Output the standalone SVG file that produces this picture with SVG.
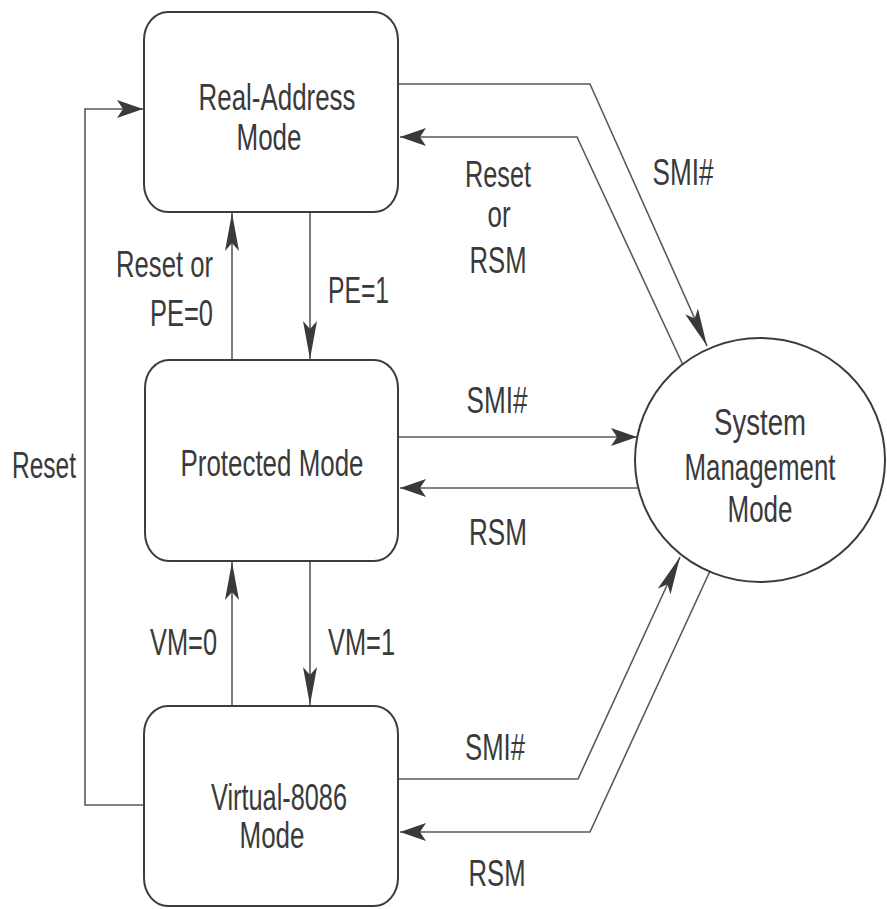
<svg xmlns="http://www.w3.org/2000/svg" width="887" height="909" viewBox="0 0 887 909">
<style>
.box{fill:#fff;stroke:#3c3c3c;stroke-width:2}
.ln{fill:none;stroke:#5a5a5a;stroke-width:1.6}
.t{font-family:"Liberation Sans",Arial,sans-serif;font-size:36px;fill:#3a3a3a;text-anchor:middle}
.e{text-anchor:end}
.s{text-anchor:start}
</style>
<defs>
<marker id="ah" markerUnits="userSpaceOnUse" viewBox="0 0 26 18" refX="26" refY="9" markerWidth="26" markerHeight="18" orient="auto">
<path d="M0,0 L26,9 L0,18 L6,9 Z" fill="#3a3a3a"/>
</marker>
<marker id="av" markerUnits="userSpaceOnUse" viewBox="0 0 38 14" refX="38" refY="7" markerWidth="38" markerHeight="14" orient="auto">
<path d="M0,0 L38,7 L0,14 L8,7 Z" fill="#3a3a3a"/>
</marker>
</defs>
<rect width="887" height="909" fill="#fff"/>
<g id="connectors">
<path class="ln" d="M144,805 L85,805 L85,109 L143,109" marker-end="url(#ah)"/>
<path class="ln" d="M232,360 L232,213" marker-end="url(#av)"/>
<path class="ln" d="M310,212 L310,359" marker-end="url(#av)"/>
<path class="ln" d="M232,706 L232,562" marker-end="url(#av)"/>
<path class="ln" d="M310,561 L310,705" marker-end="url(#av)"/>
<path class="ln" d="M398,84 L590,84 L707,346" marker-end="url(#av)"/>
<path class="ln" d="M683,365 L577,137 L400,137" marker-end="url(#ah)"/>
<path class="ln" d="M398,437 L637,437" marker-end="url(#ah)"/>
<path class="ln" d="M638,488 L400,488" marker-end="url(#ah)"/>
<path class="ln" d="M398,779 L578,779 L680,557" marker-end="url(#av)"/>
<path class="ln" d="M710,571 L590,832 L400,832" marker-end="url(#ah)"/>
<g id="labels">
<text class="t" x="44" y="478" textLength="64" lengthAdjust="spacingAndGlyphs">Reset</text>
<text class="t e" x="213" y="277" textLength="97" lengthAdjust="spacingAndGlyphs">Reset or</text>
<text class="t e" x="213" y="326" textLength="63" lengthAdjust="spacingAndGlyphs">PE=0</text>
<text class="t s" x="328" y="303" textLength="61" lengthAdjust="spacingAndGlyphs">PE=1</text>
<text class="t e" x="217" y="655" textLength="67" lengthAdjust="spacingAndGlyphs">VM=0</text>
<text class="t s" x="328" y="655" textLength="67" lengthAdjust="spacingAndGlyphs">VM=1</text>
<text class="t" x="498" y="187" textLength="66" lengthAdjust="spacingAndGlyphs">Reset</text>
<text class="t" x="499" y="227" textLength="23" lengthAdjust="spacingAndGlyphs">or</text>
<text class="t" x="498" y="273" textLength="57" lengthAdjust="spacingAndGlyphs">RSM</text>
<text class="t" x="683" y="185" textLength="61" lengthAdjust="spacingAndGlyphs">SMI#</text>
<text class="t" x="497" y="413" textLength="61" lengthAdjust="spacingAndGlyphs">SMI#</text>
<text class="t" x="498" y="545" textLength="58" lengthAdjust="spacingAndGlyphs">RSM</text>
<text class="t" x="495" y="760" textLength="60" lengthAdjust="spacingAndGlyphs">SMI#</text>
<text class="t" x="497" y="886" textLength="57" lengthAdjust="spacingAndGlyphs">RSM</text>
</g>
</g>
<g id="real">
<rect class="box" x="144" y="12" width="254" height="200" rx="24" ry="28"/>
<text class="t" x="277" y="110" textLength="157" lengthAdjust="spacingAndGlyphs">Real-Address</text>
<text class="t" x="269" y="150" textLength="65" lengthAdjust="spacingAndGlyphs">Mode</text>
</g>
<g id="protected">
<rect class="box" x="145" y="360" width="253" height="201" rx="24" ry="28"/>
<text class="t" x="272" y="476" textLength="183" lengthAdjust="spacingAndGlyphs">Protected Mode</text>
</g>
<g id="virtual">
<rect class="box" x="144" y="706" width="254" height="200" rx="24" ry="28"/>
<text class="t" x="279" y="810" textLength="136" lengthAdjust="spacingAndGlyphs">Virtual-8086</text>
<text class="t" x="272" y="848" textLength="65" lengthAdjust="spacingAndGlyphs">Mode</text>
</g>
<g id="smm">
<ellipse class="box" cx="760" cy="460" rx="125" ry="122"/>
<text class="t" x="760" y="435" textLength="92" lengthAdjust="spacingAndGlyphs">System</text>
<text class="t" x="760" y="480" textLength="151" lengthAdjust="spacingAndGlyphs">Management</text>
<text class="t" x="760" y="522" textLength="65" lengthAdjust="spacingAndGlyphs">Mode</text>
</g>
</svg>
